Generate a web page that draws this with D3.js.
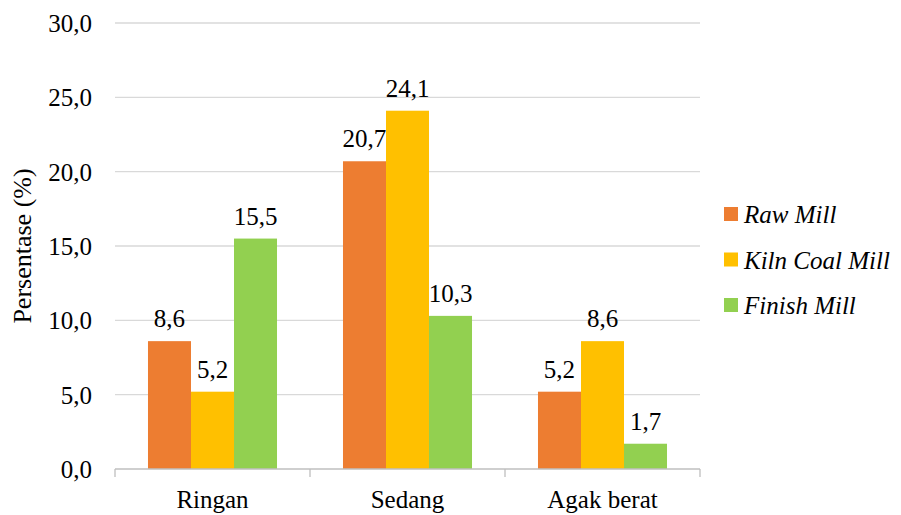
<!DOCTYPE html>
<html>
<head>
<meta charset="utf-8">
<script src="https://cdn.jsdelivr.net/npm/d3@7"></script>
</head>
<body style="margin:0">
<svg id="chart" width="901" height="515" style="display:block;font-family:'Liberation Serif'"></svg>
<script>
// Categories and series
const categories = ["Ringan", "Sedang", "Agak berat"];
const seriesNames = ["Raw Mill", "Kiln Coal Mill", "Finish Mill"];
const rawMill = [8.6, 20.7, 5.2];
const kilnCoalMill = [5.2, 24.1, 8.6];
const finishMill = [15.5, 10.3, 1.7];
const seriesValues = [rawMill, kilnCoalMill, finishMill];
const colors = ["#ED7D31", "#FFC000", "#92D050"];
const yTicks = [0, 5, 10, 15, 20, 25, 30];

const svg = d3.select("#chart");
const margin = { left: 115, right: 201, top: 23, bottom: 46 };
const W = 901, H = 515;
const plotW = W - margin.left - margin.right;
const plotH = H - margin.top - margin.bottom;

// Serif text helper
function label(sel, size) {
  return sel.style("font-family", "'Liberation Serif'").style("font-size", size + "px");
}

const g = svg.append("g").attr("transform", `translate(${margin.left},${margin.top})`);

const x0 = d3.scaleBand().domain(categories).range([0, plotW]).paddingInner(0).paddingOuter(0);
const x1 = d3.scaleBand().domain(seriesNames).range([0, x0.bandwidth()]).paddingOuter(0.767).paddingInner(0);
const y = d3.scaleLinear().domain([0, 30]).range([plotH, 0]);

const fmt = v => d3.format(".1f")(v).replace(".", ",");

// Horizontal gridlines
g.append("g").selectAll("line").data(yTicks.filter(t => t > 0)).join("line")
  .attr("x1", 0).attr("x2", plotW)
  .attr("y1", d => y(d)).attr("y2", d => y(d))
  .attr("stroke", "#d9d9d9").attr("stroke-width", 1.3);

// Y axis labels
label(g.append("g").selectAll("text").data(yTicks).join("text"), 25)
  .attr("x", -23).attr("y", d => y(d) + 9)
  .style("text-anchor", "end")
  .text(fmt);

// Bars with value labels
seriesNames.forEach((s, si) => {
  g.append("g").selectAll("rect").data(categories).join("rect")
    .attr("x", c => x0(c) + x1(s))
    .attr("width", x1.bandwidth())
    .attr("y", (c, ci) => y(seriesValues[si][ci]))
    .attr("height", (c, ci) => y(0) - y(seriesValues[si][ci]))
    .attr("fill", colors[si]);
  label(g.append("g").selectAll("text").data(categories).join("text"), 25)
    .attr("x", c => x0(c) + x1(s) + x1.bandwidth() / 2)
    .attr("y", (c, ci) => y(seriesValues[si][ci]) - 14)
    .style("text-anchor", "middle")
    .text((c, ci) => fmt(seriesValues[si][ci]));
});

// X axis
const xAxis = g.append("g").attr("transform", `translate(0,${plotH})`);
xAxis.append("line").attr("x1", 0).attr("x2", plotW).attr("y1", 0).attr("y2", 0)
  .attr("stroke", "#bfbfbf").attr("stroke-width", 1.3);
const tickXs = categories.map(c => x0(c)).concat([plotW]);
xAxis.selectAll("line.tick").data(tickXs).join("line").attr("class", "tick")
  .attr("x1", d => d).attr("x2", d => d).attr("y1", 0).attr("y2", 8)
  .attr("stroke", "#bfbfbf").attr("stroke-width", 1.3);
label(xAxis.selectAll("text").data(categories).join("text"), 25)
  .attr("x", c => x0(c) + x0.bandwidth() / 2).attr("y", 39)
  .style("text-anchor", "middle")
  .text(c => c);

// Y axis title
label(svg.append("text"), 26)
  .attr("transform", `translate(31,${margin.top + plotH / 2}) rotate(-90)`)
  .style("text-anchor", "middle")
  .text("Persentase (%)");

// Legend
const legend = svg.append("g").attr("transform", "translate(724,214)");
seriesNames.forEach((s, i) => {
  const row = legend.append("g").attr("transform", `translate(0,${i * 45.5})`);
  row.append("rect").attr("x", 0).attr("y", -7).attr("width", 14).attr("height", 14).attr("fill", colors[i]);
  label(row.append("text"), 25)
    .attr("x", 20).attr("y", 9)
    .style("font-style", "italic")
    .text(s);
});
</script>
</body>
</html>
